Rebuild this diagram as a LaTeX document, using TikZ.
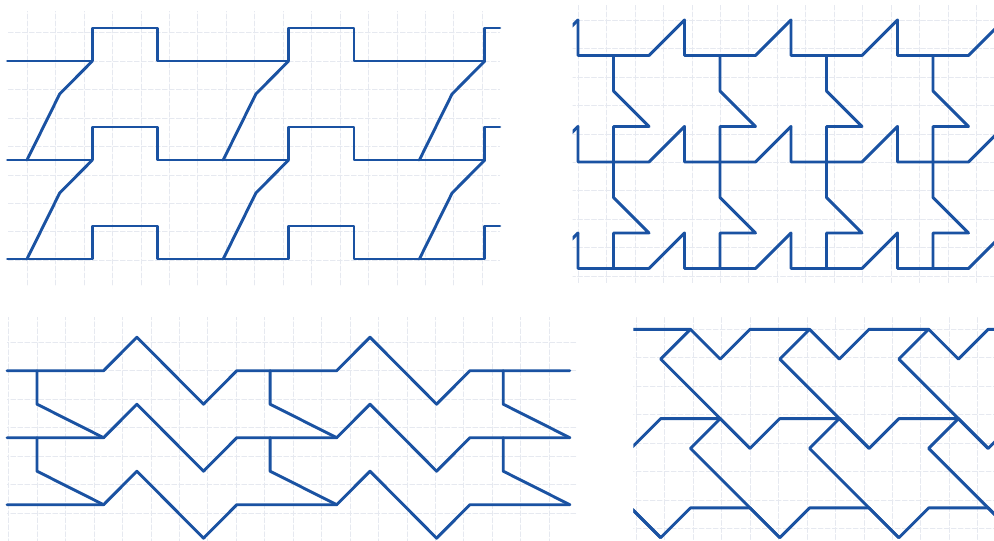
\documentclass[tikz,border=0pt]{standalone}
\definecolor{ink}{RGB}{26,82,162}
\definecolor{gridc}{RGB}{230,233,240}
\begin{document}
\begin{tikzpicture}[x=1pt,y=-1pt, line join=round, line cap=round,
  pen/.style={draw=ink, line width=2.9pt},
  gridline/.style={draw=gridc, line width=0.6pt, dash pattern=on 5pt off 2pt}]
\useasboundingbox (0,0) rectangle (994,541);
\fill[white] (0,0) rectangle (994,541);

% ---------- Panel 1 (top left) ----------
\begin{scope}[xshift=27pt, yshift=-61pt, x=32.7pt, y=-33pt]
  \begin{scope}
    \clip (-0.6,-1.5) rectangle (14.46,6.8);
    \draw[gridline] (-1,-2) grid (15,7);
  \end{scope}
  \foreach \r in {0,3,6}
    \draw[pen] (-0.6,\r) -- (2,\r) -- (2,\r-1) -- (4,\r-1) -- (4,\r)
      -- (8,\r) -- (8,\r-1) -- (10,\r-1) -- (10,\r) -- (14,\r) -- (14,\r-1) -- (14.46,\r-1);
  \foreach \p in {0,6,12}
    \foreach \r in {0,3}
      \draw[pen] (\p,\r+3) -- (\p+1,\r+1) -- (\p+2,\r);
\end{scope}

% ---------- Panel 2 (top right) ----------
\begin{scope}[xshift=578pt, yshift=-20pt, x=35.5pt, y=-35.5pt]
  \clip (-0.15,-0.4) rectangle (11.75,7.4);
  \draw[gridline] (-1,-1) grid (12,8);
  \foreach \c in {-3,0,3,6,9}
    \foreach \r in {0,3,6}
      \draw[pen] (\c,\r) -- (\c,\r+1) -- (\c+2,\r+1) -- (\c+3,\r);
  \foreach \c in {0,3,6,9}
    \foreach \r in {0,3}
      \draw[pen] (\c+1,\r+1) -- (\c+1,\r+2) -- (\c+2,\r+3) -- (\c+1,\r+3) -- (\c+1,\r+4);
\end{scope}

% ---------- Panel 3 (bottom left) ----------
\begin{scope}[xshift=37pt, yshift=-370.7pt, x=33.3pt, y=-33.5pt]
  \begin{scope}
    \clip (-0.9,-1.6) rectangle (16.2,5.2);
    \draw[gridline] (-1,-2) grid (17,6);
  \end{scope}
  \foreach \r in {0,2,4}
    \draw[pen] (-0.9,\r) -- (2,\r) -- (3,\r-1) -- (5,\r+1) -- (6,\r) -- (9,\r)
      -- (10,\r-1) -- (12,\r+1) -- (13,\r) -- (16,\r);
  \foreach \p in {0,7,14}
    \foreach \r in {0,2}
      \draw[pen] (\p,\r) -- (\p,\r+1) -- (\p+2,\r+2);
\end{scope}

% ---------- Panel 4 (bottom right) ----------
\begin{scope}[xshift=750pt, yshift=-329.3pt, x=29.77pt, y=-29.77pt]
  \clip (-3.92,-0.4) rectangle (8.2,7.4);
  \draw[gridline] (-5,-1) grid (9,8);
  \foreach \k in {0,1,2}
    \foreach \m in {-8,-4,0,4,8}
      \draw[pen] (\m-2+\k,3*\k) -- (\m-1+\k,3*\k+1) -- (\m+\k,3*\k) -- (\m+2+\k,3*\k);
  \foreach \k in {0,1}
    \foreach \m in {-8,-4,0,4}
      \draw[pen] (\m+2+\k,3*\k) -- (\m+1+\k,3*\k+1) -- (\m+4+\k,3*\k+4);
\end{scope}
\end{tikzpicture}
\end{document}
